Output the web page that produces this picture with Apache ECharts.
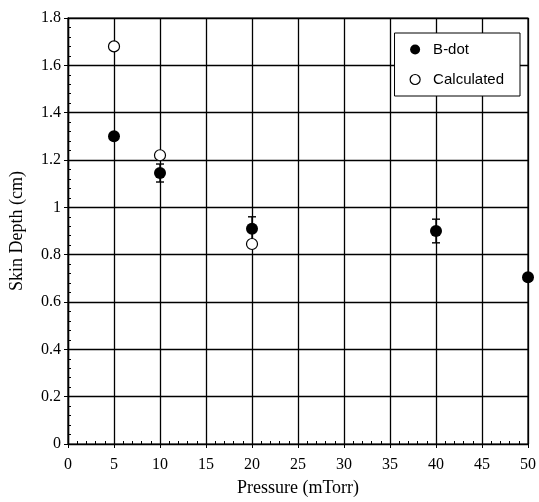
<!DOCTYPE html>
<html>
<head>
<meta charset="utf-8">
<script src="https://cdn.jsdelivr.net/npm/echarts@6/dist/echarts.min.js"></script>
<style>
  html, body { margin: 0; padding: 0; background: #fff; }
  #chart { width: 539px; height: 502px; }
</style>
</head>
<body>
<div id="chart"></div>
<script>
// Skin depth against gas pressure
const pressureBdot = [5, 10, 20, 40, 50];
const skinDepthBdot = [1.30, 1.145, 0.91, 0.90, 0.705];
const errorBdot = [0, 0.038, 0.05, 0.05, 0];

const pressureCalc = [5, 10, 20];
const skinDepthCalc = [1.68, 1.22, 0.845];

const xTicks = [0, 5, 10, 15, 20, 25, 30, 35, 40, 45, 50];
const yTicks = [0, 0.2, 0.4, 0.6, 0.8, 1, 1.2, 1.4, 1.6, 1.8];

const bdotPoints = pressureBdot.map((p, i) => [p, skinDepthBdot[i]]);
const calcPoints = pressureCalc.map((p, i) => [p, skinDepthCalc[i]]);
const errorRows = pressureBdot.map((p, i) => [p, skinDepthBdot[i] - errorBdot[i], skinDepthBdot[i] + errorBdot[i]])
  .filter((r, i) => errorBdot[i] > 0);

const serif = '"Liberation Serif", "DejaVu Serif", serif';
const sans = '"Liberation Sans", Arial, sans-serif';

const chart = echarts.init(document.getElementById('chart'), null, { renderer: 'canvas' });

const baseX = {
  type: 'value', min: xTicks[0], max: xTicks[xTicks.length - 1], interval: 5,
  axisLine: { show: true, onZero: false, lineStyle: { color: '#000', width: 1.2 } }
};
const baseY = {
  type: 'value', min: yTicks[0], max: yTicks[yTicks.length - 1], interval: 0.2,
  axisLine: { show: true, onZero: false, lineStyle: { color: '#000', width: 1.2 } }
};

chart.setOption({
  animation: false,
  backgroundColor: '#fff',
  grid: { left: 66, right: 10, top: 18, bottom: 57, show: true, borderColor: '#000', borderWidth: 1.2 },
  xAxis: [
    Object.assign({}, baseX, {
      name: 'Pressure (mTorr)', nameLocation: 'middle', nameGap: 35,
      nameTextStyle: { fontFamily: serif, fontSize: 18, color: '#000' },
      axisLabel: { fontFamily: serif, fontSize: 16, color: '#000', margin: 13,
        formatter: v => String(v) },
      axisTick: { show: true, inside: false, length: 4, lineStyle: { color: '#000' } },
      splitLine: { show: true, lineStyle: { color: '#000', width: 1.3 } }
    }),
    Object.assign({}, baseX, {
      position: 'bottom',
      axisLabel: { show: false },
      axisTick: { show: true, inside: true, length: 4, lineStyle: { color: '#000' } },
      minorTick: { show: true, splitNumber: 5, length: 3, lineStyle: { color: '#000' } },
      splitLine: { show: false }
    })
  ],
  yAxis: [
    Object.assign({}, baseY, {
      name: 'Skin Depth (cm)', nameLocation: 'middle', nameGap: 42,
      nameTextStyle: { fontFamily: serif, fontSize: 18, color: '#000' },
      axisLabel: { fontFamily: serif, fontSize: 16, color: '#000', margin: 7,
        formatter: v => String(+v.toFixed(1)) },
      axisTick: { show: true, inside: false, length: 4, lineStyle: { color: '#000' } },
      splitLine: { show: true, lineStyle: { color: '#000', width: 1.3 } }
    }),
    Object.assign({}, baseY, {
      position: 'left',
      axisLabel: { show: false },
      axisTick: { show: true, inside: true, length: 4, lineStyle: { color: '#000' } },
      minorTick: { show: true, splitNumber: 5, length: 3, lineStyle: { color: '#000' } },
      splitLine: { show: false }
    })
  ],
  legend: {
    right: 19, top: 33, orient: 'vertical', align: 'left',
    backgroundColor: '#fff', borderColor: '#000', borderWidth: 1,
    padding: [9, 16, 9, 15], itemGap: 15, itemWidth: 10, itemHeight: 10,
    textStyle: { fontFamily: sans, fontSize: 15, color: '#000', padding: [0, 0, 0, 8] },
    data: [
      { name: 'B-dot', icon: 'circle', itemStyle: { color: '#000', borderWidth: 0 } },
      { name: 'Calculated', icon: 'circle', itemStyle: { color: '#fff', borderColor: '#000', borderWidth: 1.2 } }
    ]
  },
  series: [
    {
      name: 'errors', type: 'custom', xAxisIndex: 0, yAxisIndex: 0, z: 3,
      data: errorRows,
      renderItem: (params, api) => {
        const x = api.value(0);
        const lo = api.coord([x, api.value(1)]);
        const hi = api.coord([x, api.value(2)]);
        const w = 4;
        const style = { stroke: '#000', lineWidth: 1.4 };
        return {
          type: 'group',
          children: [
            { type: 'line', shape: { x1: lo[0], y1: lo[1], x2: hi[0], y2: hi[1] }, style },
            { type: 'line', shape: { x1: lo[0] - w, y1: lo[1], x2: lo[0] + w, y2: lo[1] }, style },
            { type: 'line', shape: { x1: hi[0] - w, y1: hi[1], x2: hi[0] + w, y2: hi[1] }, style }
          ]
        };
      }
    },
    {
      name: 'Calculated', type: 'scatter', xAxisIndex: 0, yAxisIndex: 0, z: 4,
      symbol: 'circle', symbolSize: 11,
      itemStyle: { color: '#fff', borderColor: '#000', borderWidth: 1.2, opacity: 1 },
      data: calcPoints
    },
    {
      name: 'B-dot', type: 'scatter', xAxisIndex: 0, yAxisIndex: 0, z: 5,
      symbol: 'circle', symbolSize: 12,
      itemStyle: { color: '#000', opacity: 1 },
      data: bdotPoints
    }
  ]
});
</script>
</body>
</html>
